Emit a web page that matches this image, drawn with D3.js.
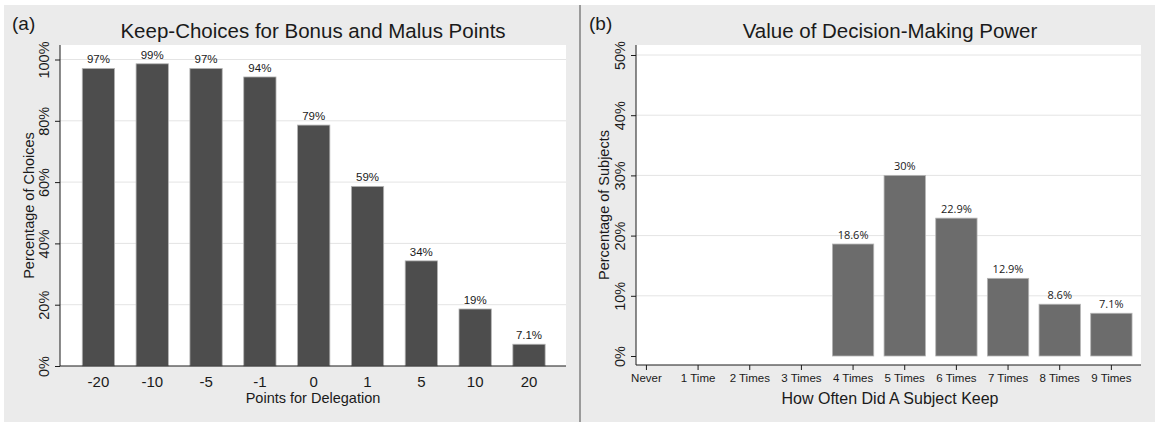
<!DOCTYPE html>
<html>
<head>
<meta charset="utf-8">
<script src="https://cdn.jsdelivr.net/npm/d3@7"></script>
<style>
  body { margin: 0; background: #fff; }
  text { font-family: "Liberation Sans", Arial, sans-serif; fill: #1a1a1a; }
</style>
</head>
<body>
<svg id="drawing_region"></svg>
<script>
// panel (a)
const pointCats = ["-20", "-10", "-5", "-1", "0", "1", "5", "10", "20"];
const keepShares = [97.1, 98.6, 97.1, 94.3, 78.6, 58.6, 34.3, 18.6, 7.1];
const keepLabels = ["97%", "99%", "97%", "94%", "79%", "59%", "34%", "19%", "7.1%"];
const keepTicks = [0, 20, 40, 60, 80, 100];

// panel (b)
const timesCats = ["Never", "1 Time", "2 Times", "3 Times", "4 Times", "5 Times", "6 Times", "7 Times", "8 Times", "9 Times"];
const subjectShares = [0, 0, 0, 0, 18.6, 30, 22.9, 12.9, 8.6, 7.1];
const subjectLabels = ["", "", "", "", "18.6%", "30%", "22.9%", "12.9%", "8.6%", "7.1%"];
const subjectTicks = [0, 10, 20, 30, 40, 50];

const W = 1155, H = 422;
const svg = d3.select('#drawing_region')
    .attr('width', W)
    .attr('height', H);

// grey background + divider
svg.append('rect')
    .attr('x', 4).attr('y', 5)
    .attr('width', W - 4).attr('height', H - 5)
    .attr('fill', '#ebebeb');
svg.append('rect')
    .attr('x', 579).attr('y', 5)
    .attr('width', 2).attr('height', H - 5)
    .attr('fill', '#9a9a9a');

function drawPanel(cfg) {
    const g = svg.append('g');

    g.append('rect')
        .attr('x', cfg.left).attr('y', cfg.top)
        .attr('width', cfg.right - cfg.left)
        .attr('height', cfg.axisY - cfg.top)
        .attr('fill', '#fff');

    const xscale = d3.scaleBand()
        .domain(cfg.cats)
        .range(cfg.xrange)
        .paddingInner(cfg.padInner)
        .paddingOuter(cfg.padOuter);

    const yscale = d3.scaleLinear()
        .domain(cfg.ydomain)
        .range(cfg.yrange);

    // grid
    g.selectAll('.grid')
        .data(cfg.ticks.filter(d => d > 0))
        .enter()
        .append('line')
        .attr('x1', cfg.left).attr('x2', cfg.right)
        .attr('y1', d => yscale(d)).attr('y2', d => yscale(d))
        .attr('stroke', '#e4e4e4')
        .attr('stroke-width', 1);

    // bars
    g.selectAll('.bar')
        .data(cfg.values)
        .enter()
        .append('rect')
        .attr('x', (d, i) => xscale(cfg.cats[i]))
        .attr('y', d => yscale(d))
        .attr('width', xscale.bandwidth())
        .attr('height', d => yscale(0) - yscale(d))
        .attr('fill', d => d > 0 ? cfg.barColor : 'none')
        .attr('stroke', d => d > 0 ? '#b4b4b4' : 'none')
        .attr('stroke-width', 0.8);

    // value labels
    g.selectAll('.val')
        .data(cfg.values)
        .enter()
        .append('text')
        .attr('x', (d, i) => xscale(cfg.cats[i]) + xscale.bandwidth() / 2)
        .attr('y', d => yscale(d) - 5)
        .attr('text-anchor', 'middle')
        .style('font-family', cfg.valFont)
        .style('font-size', cfg.valSize)
        .text((d, i) => cfg.labels[i]);

    // y axis
    const yaxis = d3.axisLeft(yscale)
        .tickValues(cfg.ticks)
        .tickSize(5)
        .tickSizeOuter(0)
        .tickFormat(d => d + '%');
    const yg = g.append('g')
        .attr('transform', `translate(${cfg.left},0)`)
        .call(yaxis);
    yg.select('.domain').remove();
    yg.selectAll('line').attr('stroke', '#1a1a1a');
    yg.selectAll('text')
        .attr('transform', 'rotate(-90)')
        .attr('x', 0)
        .attr('y', -16)
        .attr('dy', '0.35em')
        .attr('text-anchor', 'middle')
        .style('font-family', '"Liberation Sans", Arial, sans-serif')
        .style('font-size', '14.5px')
        .attr('fill', '#1a1a1a');
    g.append('line')
        .attr('x1', cfg.left).attr('x2', cfg.left)
        .attr('y1', cfg.top).attr('y2', cfg.axisY)
        .attr('stroke', '#1a1a1a');

    // x axis
    const xaxis = d3.axisBottom(xscale)
        .tickSize(cfg.xTickSize)
        .tickSizeOuter(0)
        .tickPadding(cfg.xTickPad);
    const xg = g.append('g')
        .attr('transform', `translate(0,${cfg.axisY})`)
        .call(xaxis);
    xg.select('.domain').remove();
    xg.selectAll('line').attr('stroke', '#1a1a1a');
    xg.selectAll('text')
        .style('font-family', '"Liberation Sans", Arial, sans-serif')
        .style('font-size', cfg.xTickFont)
        .attr('fill', '#1a1a1a');
    g.append('line')
        .attr('x1', cfg.left).attr('x2', cfg.right)
        .attr('y1', cfg.axisY).attr('y2', cfg.axisY)
        .attr('stroke', '#1a1a1a');

    // labels
    g.append('text')
        .attr('x', cfg.titleX).attr('y', 38)
        .attr('text-anchor', 'middle')
        .style('font-size', '20.5px')
        .text(cfg.title);
    g.append('text')
        .attr('x', cfg.tagX).attr('y', 30)
        .style('font-size', '19px')
        .text(cfg.tag);
    g.append('text')
        .attr('x', cfg.titleX).attr('y', cfg.xTitleY)
        .attr('text-anchor', 'middle')
        .style('font-size', cfg.xTitleSize)
        .text(cfg.xTitle);
    g.append('text')
        .attr('transform', `translate(${cfg.yTitleX},${(cfg.top + cfg.axisY) / 2}) rotate(-90)`)
        .attr('text-anchor', 'middle')
        .attr('dy', '0.35em')
        .style('font-size', '14.5px')
        .text(cfg.yTitle);
}

drawPanel({
    cats: pointCats, values: keepShares, labels: keepLabels, ticks: keepTicks,
    left: 60, right: 566, top: 45, axisY: 366,
    xrange: [71.5, 555.9], padInner: 0.4, padOuter: 0.2,
    ydomain: [0, 100], yrange: [366, 59.5],
    barColor: '#4d4d4d',
    valFont: '"Liberation Sans", Arial, sans-serif', valSize: '11.5px',
    xTickSize: 0, xTickPad: 10, xTickFont: '15px',
    title: 'Keep-Choices for Bonus and Malus Points', titleX: 313,
    tag: '(a)', tagX: 12,
    xTitle: 'Points for Delegation', xTitleY: 403, xTitleSize: '14.5px',
    yTitle: 'Percentage of Choices', yTitleX: 29
});

drawPanel({
    cats: timesCats, values: subjectShares, labels: subjectLabels, ticks: subjectTicks,
    left: 636, right: 1141, top: 45, axisY: 365,
    xrange: [620.6, 1137.2], padInner: 0.2, padOuter: 0.1,
    ydomain: [0, 50], yrange: [356, 55],
    barColor: '#6c6c6c',
    valFont: '"Open Sans", sans-serif', valSize: '11px',
    xTickSize: 5, xTickPad: 4, xTickFont: '11.5px',
    title: 'Value of Decision-Making Power', titleX: 890,
    tag: '(b)', tagX: 589,
    xTitle: 'How Often Did A Subject Keep', xTitleY: 404, xTitleSize: '16px',
    yTitle: 'Percentage of Subjects', yTitleX: 604
});
</script>
</body>
</html>
